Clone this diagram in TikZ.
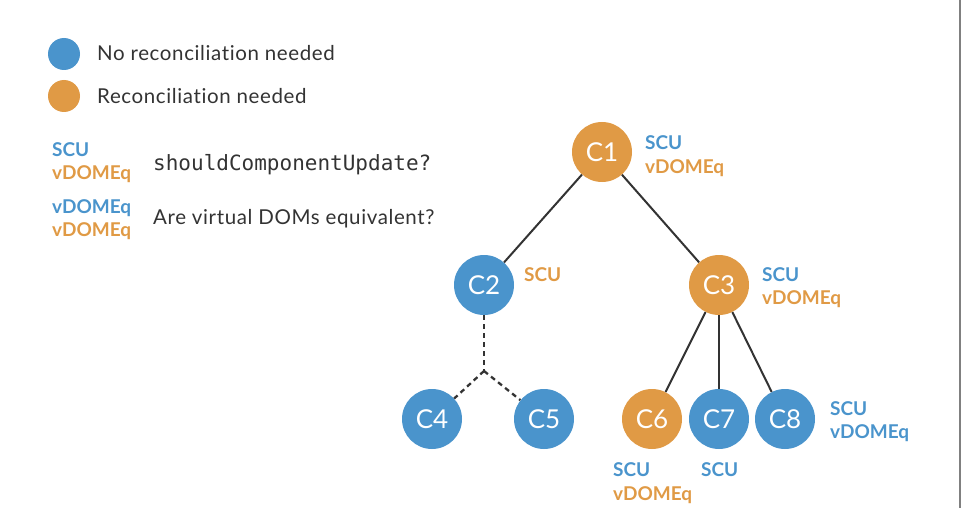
\documentclass[tikz,border=0pt]{standalone}
\usepackage{fontspec}
\setmainfont{Lato}
\newfontfamily\legendfont{Lato}[LetterSpace=3,Ligatures=NoCommon]
\newfontfamily\codefont{DejaVu Sans Mono}
\definecolor{NoReconClr}{HTML}{4A94CC}
\definecolor{ReconClr}{HTML}{E09A45}
\definecolor{LineClr}{HTML}{333333}
\definecolor{TextClr}{HTML}{333333}

\begin{document}
\begin{tikzpicture}[x=1pt,y=-1pt,
  comp/.style={circle,minimum size=60pt,inner sep=0pt,text=white,font=\fontsize{26}{26}\selectfont},
  keep/.style={comp,fill=NoReconClr},
  recon/.style={comp,fill=ReconClr},
  dot/.style={circle,minimum size=32pt,inner sep=0pt},
  edge/.style={LineClr,line width=2pt},
  skipped/.style={edge,line width=2.3pt,dash pattern=on 5pt off 4pt},
  tag/.style={anchor=west,inner sep=0pt,text height=13.7pt,text depth=0pt,font=\fontsize{19}{19}\selectfont\bfseries},
  scu/.style={tag,text=NoReconClr},
  veq/.style={tag,text=ReconClr},
  legend/.style={anchor=west,inner sep=0pt,text=TextClr,text height=14.7pt,text depth=0pt,font=\fontsize{20.5}{20.5}\legendfont}]
\useasboundingbox (0,0) rectangle (961,508);

% legend
\node[dot,fill=NoReconClr] (blue) at (64,54) {};
\node[dot,fill=ReconClr] (orange) at (64,96) {};
\node[legend] (blueTxt) at (97,53) {No reconciliation needed};
\node[legend] (orangeTxt) at (97,96) {Reconciliation needed};

\node[scu] (keySCU) at (52,150) {SCU};
\node[veq] (keySCUb) at (52,173) {vDOMEq};
\node[legend,text height=16pt,font=\fontsize{21}{21}\selectfont\codefont] (keySCUTxt) at (153,162) {shouldComponentUpdate?};
\node[scu] (keyEq) at (52,207) {vDOMEq};
\node[veq] (keyEqb) at (52,230) {vDOMEq};
\node[legend] (keyEqTxt) at (153,217) {Are virtual DOMs equivalent?};

% component tree
\node[recon] (c1) at (602,152) {C1};
\node[keep]  (c2) at (484,285) {C2};
\node[recon] (c3) at (719,285) {C3};
\node[keep]  (c4) at (432,419) {C4};
\node[keep]  (c5) at (544,419) {C5};
\node[recon] (c6) at (652,419) {C6};
\node[keep]  (c7) at (719,419) {C7};
\node[keep]  (c8) at (785,419) {C8};
\coordinate (split) at (484,371);

\draw[edge] (c1) -- (c2);
\draw[edge] (c1) -- (c3);
\draw[edge] (c3) -- (c6);
\draw[edge] (c3) -- (c7);
\draw[edge] (c3) -- (c8);
\draw[skipped] (c2) -- (split);
\draw[skipped] (split) -- (c4);
\draw[skipped] (split) -- (c5);

% checks beside the components
\node[scu] (c1a) at (645,143) {SCU};
\node[veq] (c1b) at (645,167) {vDOMEq};
\node[veq] (c2a) at (524,275) {SCU};
\node[scu] (c3a) at (762,275) {SCU};
\node[veq] (c3b) at (762,298) {vDOMEq};
\node[scu] (c6a) at (613,470) {SCU};
\node[veq] (c6b) at (613,494) {vDOMEq};
\node[scu] (c7a) at (701,470) {SCU};
\node[scu] (c8a) at (830,409) {SCU};
\node[scu] (c8b) at (830,432) {vDOMEq};

\draw[gray,line width=1.3pt] (960,0) -- (960,508);

\end{tikzpicture}
\end{document}
